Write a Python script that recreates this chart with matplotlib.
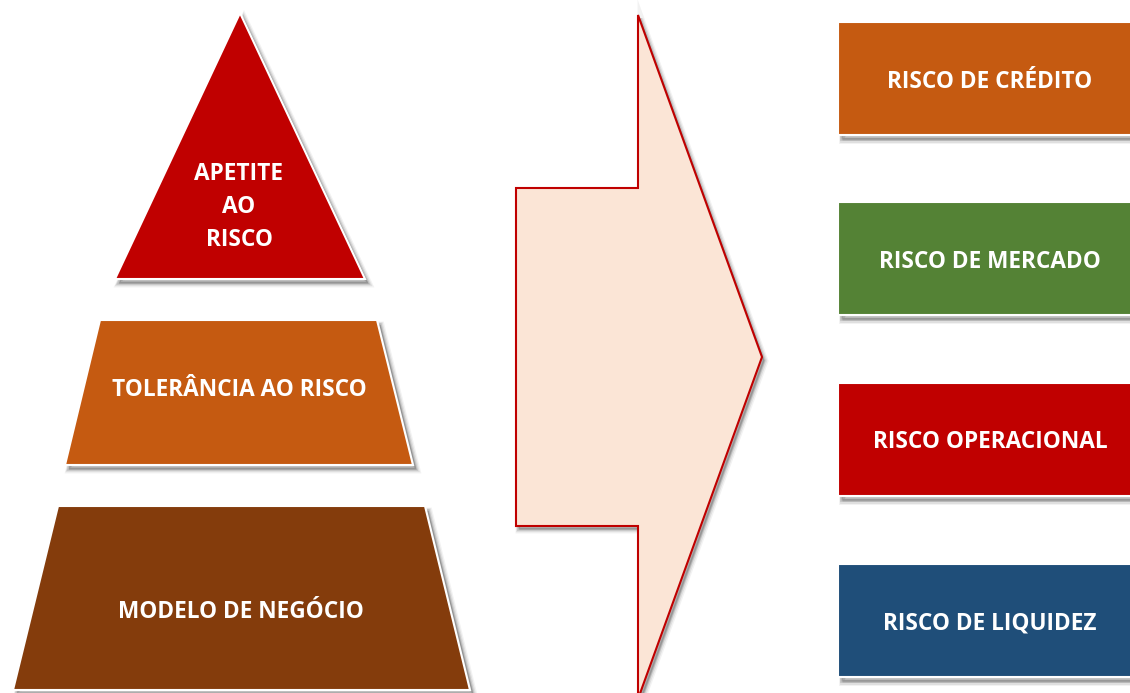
import matplotlib
matplotlib.use("Agg")
import matplotlib.pyplot as plt
from matplotlib.patches import Polygon, Rectangle

# ---- content ----
pyramid_labels = ["APETITE\nAO\nRISCO", "TOLERÂNCIA AO RISCO", "MODELO DE NEGÓCIO"]
pyramid_colors = ["#C00000", "#C55A11", "#843C0C"]
risk_labels = ["RISCO DE CRÉDITO", "RISCO DE MERCADO", "RISCO OPERACIONAL", "RISCO DE LIQUIDEZ"]
risk_colors = ["#C55A11", "#548235", "#C00000", "#1F4E79"]
arrow_fill = "#FBE5D6"
arrow_edge = "#C00000"

FONT = ["Open Sans", "DejaVu Sans"]
FS = 16.3

fig = plt.figure(figsize=(11.3, 6.93), dpi=100)
ax = fig.add_axes([0, 0, 1, 1])
ax.set_xlim(0, 1130)
ax.set_ylim(693, 0)
ax.axis("off")


def shadow_poly(pts, dx=3, dy=4):
    for k, a in [(5, 0.05), (3.5, 0.08), (2, 0.12)]:
        sp = [(x + dx + k * 0.2, y + dy + k * 0.2) for x, y in pts]
        ax.add_patch(Polygon(sp, closed=True, facecolor="black", edgecolor="black",
                             linewidth=k, alpha=a, zorder=1))


# ---- pyramid ----
pyr_shapes = [
    [(115, 279), (240, 13), (365, 279)],
    [(100, 320), (377, 320), (413, 465), (65, 465)],
    [(58, 506), (425, 506), (470, 690), (13, 690)],
]
pyr_text_pos = [(239, 207), (239, 390), (241, 612)]
for pts, col, lab, (tx, ty) in zip(pyr_shapes, pyramid_colors, pyramid_labels, pyr_text_pos):
    shadow_poly(pts)
    ax.add_patch(Polygon(pts, closed=True, facecolor=col, edgecolor="white",
                         linewidth=1.5, zorder=2))
    ax.text(tx, ty, lab, color="white", fontsize=FS, fontweight="bold",
            family=FONT, ha="center", va="center", linespacing=1.5, zorder=3)

# ---- arrow ----
arrow_pts = [(516, 188), (638, 188), (638, 15), (762, 357), (638, 699),
             (638, 526), (516, 526)]
shadow_poly(arrow_pts, dx=2, dy=3)
ax.add_patch(Polygon(arrow_pts, closed=True, facecolor=arrow_fill, edgecolor=arrow_edge,
                     linewidth=1.5, zorder=2))

# ---- risk boxes ----
box_tops = [22, 202, 383, 564]
box_h = 113
for top, col, lab in zip(box_tops, risk_colors, risk_labels):
    shadow_poly([(838, top), (1140, top), (1140, top + box_h), (838, top + box_h)])
    ax.add_patch(Rectangle((838, top), 310, box_h, facecolor=col, edgecolor="white",
                           linewidth=1.5, zorder=2))
    ax.text(990, top + box_h / 2 + 3, lab, color="white", fontsize=FS, fontweight="bold",
            family=FONT, ha="center", va="center", zorder=3)

fig.savefig("out.png", dpi=100, facecolor="white")
